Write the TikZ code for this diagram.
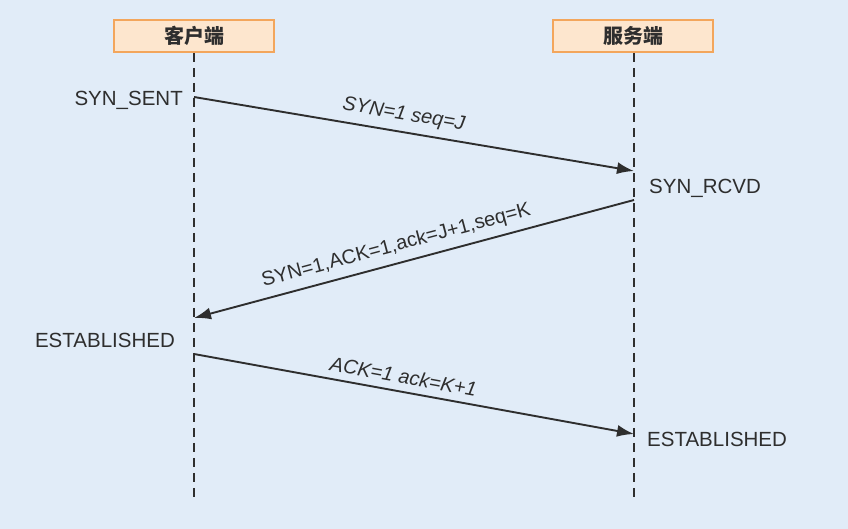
\documentclass[tikz,border=0pt]{standalone}
\usepackage{fontspec}
\setmainfont{Liberation Sans}
\newfontfamily\cjk{Noto Sans CJK SC}
\usetikzlibrary{arrows.meta}
\definecolor{bgc}{HTML}{E1ECF8}
\definecolor{boxfill}{HTML}{FDE6CE}
\definecolor{boxdraw}{HTML}{F3A65C}
\definecolor{ink}{HTML}{2E2E2E}
\tikzset{
  hostbox/.style={draw=boxdraw, fill=boxfill, line width=1.6pt, minimum width=160pt, minimum height=32pt, inner sep=0pt, font=\cjk\bfseries\fontsize{20}{20}\selectfont, text=ink},
  lifeline/.style={draw=ink, line width=1.6pt, dash pattern=on 9pt off 6pt},
  msg/.style={draw=ink, line width=1.9pt, -{Latex[length=17pt,width=12pt]}},
  msglabel/.style={sloped, above, inner sep=0pt, font=\fontsize{20}{20}\selectfont, text=ink},
  state/.style={inner sep=0pt, font=\fontsize{20.5}{20.5}\selectfont, text=ink}
}
\begin{document}
\begin{tikzpicture}[x=1pt,y=-1pt]
\fill[bgc] (0,0) rectangle (848,529);
\useasboundingbox (0,0) rectangle (848,529);
\node[hostbox] (client) at (194,36) {客户端};
\node[hostbox] (server) at (633,36) {服务端};
\coordinate (cend) at (194,501);
\coordinate (send) at (634,499);
\draw[lifeline] (client.south) -- (cend);
\draw[lifeline] (server.south -| send) -- (send);
\coordinate (c1) at (194,97);
\coordinate (s1) at (634,171);
\coordinate (s2) at (634,200);
\coordinate (c2) at (194,318);
\coordinate (c3) at (194,354);
\coordinate (s3) at (634,434);
\draw[msg] (c1) -- node[msglabel, pos=0.47, yshift=7pt] {\itshape SYN=1 seq=J} (s1);
\draw[msg] (s2) -- node[msglabel, pos=0.53, yshift=7pt] {SYN=1,ACK=1,ack=J+1,seq=K} (c2);
\draw[msg] (c3) -- node[msglabel, pos=0.47, yshift=7pt] {\itshape ACK=1 ack=K+1} (s3);
\node[state, anchor=east] (syns) at (183,100) {SYN\_SENT};
\node[state, anchor=west] (synr) at (649,188) {SYN\_RCVD};
\node[state, anchor=east] (estc) at (175,340) {ESTABLISHED};
\node[state, anchor=west] (ests) at (647,439) {ESTABLISHED};
\end{tikzpicture}
\end{document}
